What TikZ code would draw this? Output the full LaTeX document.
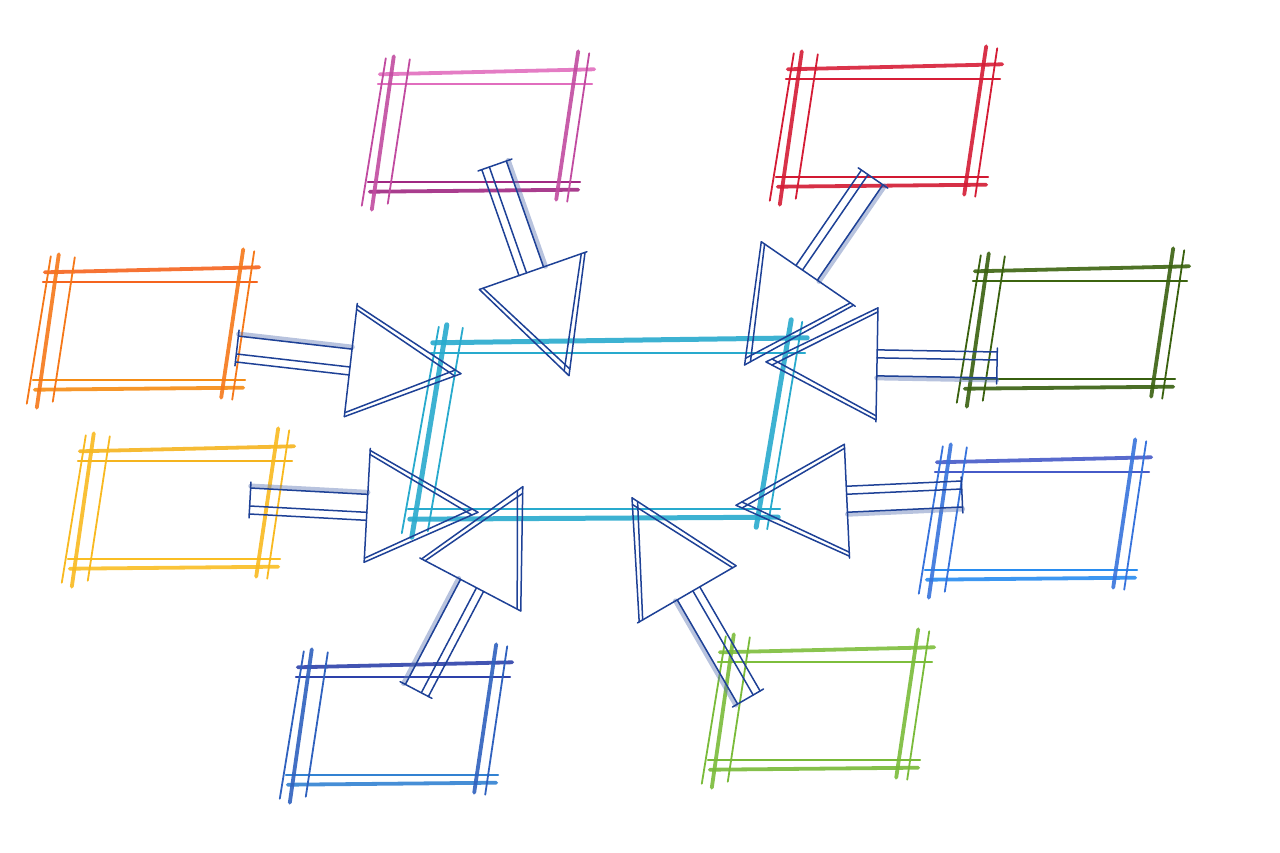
\documentclass[tikz,border=0pt]{standalone}
\usepackage{tikz}
\usetikzlibrary{calc}

\definecolor{pinkA}{RGB}{225,110,190}
\definecolor{pinkB}{RGB}{160,40,130}
\definecolor{redA}{RGB}{215,30,55}
\definecolor{redB}{RGB}{210,25,50}
\definecolor{orangeA}{RGB}{245,100,30}
\definecolor{orangeB}{RGB}{245,140,20}
\definecolor{greenA}{RGB}{60,100,15}
\definecolor{greenB}{RGB}{55,95,15}
\definecolor{yellowA}{RGB}{245,180,30}
\definecolor{yellowB}{RGB}{250,190,35}
\definecolor{blueA}{RGB}{70,90,200}
\definecolor{blueB}{RGB}{40,140,240}
\definecolor{navyA}{RGB}{45,65,170}
\definecolor{navyB}{RGB}{50,130,210}
\definecolor{limeA}{RGB}{125,190,60}
\definecolor{limeB}{RGB}{120,185,55}
\definecolor{hubC}{RGB}{40,170,205}
\definecolor{penblue}{RGB}{30,65,150}

\tikzset{
  boxarea/.style={minimum width=200pt,minimum height=97pt,inner sep=0pt},
  crayon/.style={line width=3.8pt,line cap=round,opacity=.9},
  crayon thin/.style={line width=1.8pt,line cap=round},
  arrowline/.style={penblue,line width=1.5pt,line join=round,line cap=round},
  hatch/.style={penblue!70,line width=5pt,line cap=round,opacity=.45}
}

\newcommand\sketchbox[4]{%
  \draw[crayon,#2] ($(#1.north west)+(-2,-10)$) -- ($(#1.north east)+(12,-15)$);
  \draw[crayon thin,#2] ($(#1.north west)+(-4,0)$) -- ($(#1.north east)+(10,0)$);
  \draw[crayon thin,#3] ($(#1.south west)+({8-#4},0)$) -- ($(#1.south east)+({20-#4},0)$);
  \draw[crayon,#3] ($(#1.south west)+({10-#4},10)$) -- ($(#1.south east)+({18-#4},8)$);
  \draw[crayon,#2!50!#3] ($(#1.north west)+(12,-28)$) -- ($(#1.south west)+({12-#4},28)$);
  \draw[crayon thin,#2!50!#3] ($(#1.north west)+(28,-25)$) -- ($(#1.south west)+({28-#4},22)$);
  \draw[crayon thin,#2!50!#3] ($(#1.north west)+(4,-26)$) -- ($(#1.south west)+({2-#4},24)$);
  \draw[crayon,#2!50!#3] ($(#1.north east)+(-4,-33)$) -- ($(#1.south east)+({-4-#4},18)$);
  \draw[crayon thin,#2!50!#3] ($(#1.north east)+(7,-31)$) -- ($(#1.south east)+({7-#4},20)$);
}

\newcommand\arrowin[2]{%
  \coordinate (hb) at ($(#2)!105pt!(#1)$);
  \draw[hatch] ($(#1)!14pt!90:(#2)$) -- ($(hb)!14pt!90:(#2)$);
  \draw[arrowline] ($(#1)!12pt!90:(#2)$) -- ($(hb)!12pt!90:(#2)$);
  \draw[arrowline] ($(#1)!-6pt!90:(#2)$) -- ($(hb)!-6pt!90:(#2)$);
  \draw[arrowline] ($(#1)!-14pt!90:(#2)$) -- ($(hb)!-14pt!90:(#2)$);
  \draw[arrowline] ($(#1)!18pt!90:(#2)$) -- ($(#1)!-18pt!90:(#2)$);
  \draw[arrowline] ($(hb)!58pt!90:(#2)$) -- ($(hb)!-56pt!90:(#2)$);
  \draw[arrowline] ($(hb)!56pt!90:(#2)$) -- ($(#2)!-6pt!(hb)$);
  \draw[arrowline] ($(hb)!52pt!90:(#2)$) -- ($(#2)!3pt!90:(hb)$);
  \draw[arrowline] ($(hb)!-56pt!90:(#2)$) -- ($(#2)!-6pt!(hb)$);
  \draw[arrowline] ($(hb)!-52pt!90:(#2)$) -- ($(#2)!-3pt!90:(hb)$);
}

\begin{document}
\begin{tikzpicture}[x=1pt,y=-1pt]
  \useasboundingbox (0,0) rectangle (1280,853);

  \node[boxarea] (pink)   at (482,133) {};
  \node[boxarea] (red)    at (890,128) {};
  \node[boxarea] (orange) at (147,331) {};
  \node[boxarea] (green)  at (1077,330) {};
  \node[boxarea] (yellow) at (182,510) {};
  \node[boxarea] (blue)   at (1039,521) {};
  \node[boxarea] (navy)   at (400,726) {};
  \node[boxarea] (lime)   at (822,711) {};
  \node[boxarea,minimum width=360pt,minimum height=156pt] (hub) at (615,431) {};

  \sketchbox{pink}{pinkA}{pinkB}{22}
  \sketchbox{red}{redA}{redB}{22}
  \sketchbox{orange}{orangeA}{orangeB}{22}
  \sketchbox{green}{greenA}{greenB}{22}
  \sketchbox{yellow}{yellowA}{yellowB}{22}
  \sketchbox{blue}{blueA}{blueB}{22}
  \sketchbox{navy}{navyA}{navyB}{22}
  \sketchbox{lime}{limeA}{limeB}{22}
  \begin{scope}[crayon/.append style={line width=5pt}]
    \sketchbox{hub}{hubC}{hubC}{35}
  \end{scope}

  \coordinate (pink_t)   at (495,165);  \coordinate (pink_h)   at (567,370);
  \coordinate (red_t)    at (873,178);  \coordinate (red_h)    at (748,360);
  \coordinate (orange_t) at (237,348);  \coordinate (orange_h) at (455,373);
  \coordinate (green_t)  at (997,366);  \coordinate (green_h)  at (772,362);
  \coordinate (yellow_t) at (250,500);  \coordinate (yellow_h) at (472,512);
  \coordinate (blue_t)   at (962,495);  \coordinate (blue_h)   at (742,505);
  \coordinate (navy_t)   at (416,690);  \coordinate (navy_h)   at (520,492);
  \coordinate (lime_t)   at (748,698);  \coordinate (lime_h)   at (635,503);

  \foreach \b in {pink,red,orange,green,yellow,blue,navy,lime}
    {\arrowin{\b_t}{\b_h}}
\end{tikzpicture}
\end{document}
